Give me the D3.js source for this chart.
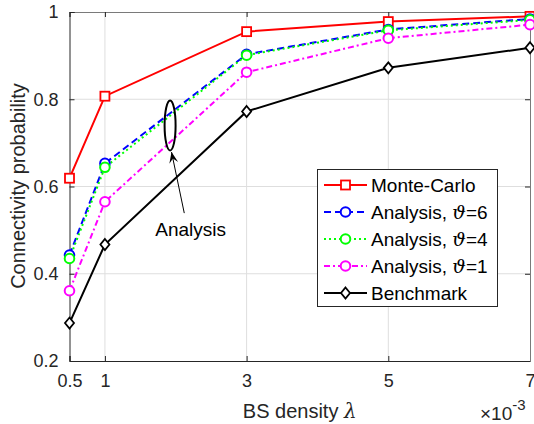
<!DOCTYPE html>
<html>
<head>
<meta charset="utf-8">
<script src="https://cdn.jsdelivr.net/npm/d3@7"></script>
<style>
  body { margin: 0; background: #fff; }
  svg { display: block; font-family: "Liberation Sans", Arial, sans-serif; }
</style>
</head>
<body>
<div id="chart"></div>
<script>
// ---- data ----
const density = [0.5, 1, 3, 5, 7];           // x 10^-3
const monteCarlo = [0.619, 0.807, 0.955, 0.978, 0.990];
const analysis6 = [0.443, 0.653, 0.903, 0.960, 0.984];
const analysis4 = [0.435, 0.644, 0.901, 0.958, 0.982];
const analysis1 = [0.361, 0.565, 0.862, 0.940, 0.971];
const benchmark = [0.287, 0.467, 0.772, 0.872, 0.918];
const xTicks = [0.5, 1, 3, 5, 7];
const yTicks = [0.2, 0.4, 0.6, 0.8, 1];

const series = [
    { name: "Monte-Carlo", theta: null, values: monteCarlo, color: "#ff0000", dash: null, marker: "square" },
    { name: "Analysis, ", theta: "6", values: analysis6, color: "#0000ff", dash: "7,4", marker: "circle" },
    { name: "Analysis, ", theta: "4", values: analysis4, color: "#00ff00", dash: "2,3", marker: "circle" },
    { name: "Analysis, ", theta: "1", values: analysis1, color: "#ff00ff", dash: "6,3,2,3", marker: "circle" },
    { name: "Benchmark", theta: null, values: benchmark, color: "#000000", dash: null, marker: "diamond" }
];

const W = 534, H = 424;
const margin = { left: 69.5, right: 4, top: 12, bottom: 63 };

const svg = d3.select("#chart").append("svg")
    .attr("width", W).attr("height", H);

const x = d3.scaleLinear().domain([0.5, 7]).range([margin.left, W - margin.right]);
const y = d3.scaleLinear().domain([0.2, 1]).range([H - margin.bottom, margin.top]);

const textColor = "#262626";

// grid
svg.append("g").selectAll("line").data(xTicks.slice(1, -1)).join("line")
    .attr("x1", d => x(d)).attr("x2", d => x(d))
    .attr("y1", y(0.2)).attr("y2", y(1))
    .attr("stroke", "#dedede").attr("stroke-width", 1);
svg.append("g").selectAll("line").data(yTicks.slice(1, -1)).join("line")
    .attr("x1", x(0.5)).attr("x2", x(7))
    .attr("y1", d => y(d)).attr("y2", d => y(d))
    .attr("stroke", "#dedede").attr("stroke-width", 1);

// axes (inward ticks)
const xAxis = svg.append("g")
    .attr("transform", `translate(0,${y(0.2)})`)
    .call(d3.axisBottom(x).tickValues(xTicks).tickSize(-5).tickPadding(13).tickFormat(d3.format("")));
const xAxisTop = svg.append("g")
    .attr("transform", `translate(0,${y(1)})`)
    .call(d3.axisTop(x).tickValues(xTicks).tickSize(-5).tickFormat(""));
const yAxis = svg.append("g")
    .attr("transform", `translate(${x(0.5)},0)`)
    .call(d3.axisLeft(y).tickValues(yTicks).tickSize(-5).tickPadding(11)
        .tickFormat(d => d === 1 ? "1" : d.toFixed(1)));
const yAxisRight = svg.append("g")
    .attr("transform", `translate(${x(7)},0)`)
    .call(d3.axisRight(y).tickValues(yTicks).tickSize(-5).tickFormat(""));

[xAxis, xAxisTop, yAxis, yAxisRight].forEach(g => {
    g.select(".domain").attr("stroke", "#262626").attr("stroke-width", 1);
    g.selectAll(".tick line").attr("stroke", "#262626");
    g.selectAll(".tick text").attr("fill", textColor)
        .style("font-size", "18px").style("font-family", "Liberation Sans, Arial, sans-serif");
});
xAxisTop.select(".domain").attr("stroke", "#7a7a7a");
yAxisRight.select(".domain").attr("stroke", "#7a7a7a");

// axis labels
svg.append("text")
    .attr("x", (x(0.5) + x(7)) / 2).attr("y", 418)
    .attr("text-anchor", "middle").attr("fill", textColor)
    .style("font-size", "20px")
    .text("BS density ")
    .append("tspan").style("font-family", "DejaVu Serif, serif").style("font-style", "italic").text("λ");

svg.append("text")
    .attr("transform", "translate(25,186) rotate(-90)")
    .attr("text-anchor", "middle").attr("fill", textColor)
    .style("font-size", "20px")
    .text("Connectivity probability");

const expo = svg.append("text")
    .attr("x", 480).attr("y", 420).attr("fill", textColor)
    .style("font-size", "19px");
expo.append("tspan").text("×10");
expo.append("tspan").attr("dy", -10).style("font-size", "15px").text("-3");

// lines and markers
const lineGen = d3.line().x((d, i) => x(density[i])).y(d => y(d));

function drawMarker(g, type, cx, cy, color) {
    if (type === "square") {
        g.append("rect").attr("x", cx - 4.5).attr("y", cy - 4.5).attr("width", 9).attr("height", 9)
            .attr("fill", "#fff").attr("stroke", color).attr("stroke-width", 1.8);
    } else if (type === "circle") {
        g.append("circle").attr("cx", cx).attr("cy", cy).attr("r", 4.8)
            .attr("fill", "#fff").attr("stroke", color).attr("stroke-width", 2);
    } else {
        g.append("path").attr("d", `M${cx},${cy - 5.5}L${cx + 4.5},${cy}L${cx},${cy + 5.5}L${cx - 4.5},${cy}Z`)
            .attr("fill", "#fff").attr("stroke", color).attr("stroke-width", 1.8);
    }
}

const plot = svg.append("g");
series.forEach(s => {
    plot.append("path")
        .attr("d", lineGen(s.values))
        .attr("fill", "none").attr("stroke", s.color).attr("stroke-width", 2)
        .attr("stroke-dasharray", s.dash);
});
series.forEach(s => {
    const mg = plot.append("g");
    s.values.forEach((v, i) => drawMarker(mg, s.marker, x(density[i]), y(v), s.color));
});

// annotation: ellipse + arrow + text
const annX = 1.92, annY = 0.740;
svg.append("ellipse")
    .attr("cx", x(annX)).attr("cy", y(annY)).attr("rx", 5.5).attr("ry", 25)
    .attr("fill", "none").attr("stroke", "#000").attr("stroke-width", 2);

const ax0 = x(2.12), ay0 = y(0.539);
const ax1 = x(1.94), ay1 = y(0.679);
svg.append("line")
    .attr("x1", ax0).attr("y1", ay0).attr("x2", ax1).attr("y2", ay1)
    .attr("stroke", "#000").attr("stroke-width", 1);
const ang = Math.atan2(ay1 - ay0, ax1 - ax0);
const hl = 11, hw = 4.5;
const bx = ax1 - hl * Math.cos(ang), by = ay1 - hl * Math.sin(ang);
const nx = -Math.sin(ang), ny = Math.cos(ang);
svg.append("path")
    .attr("d", `M${ax1},${ay1}L${bx + hw * nx},${by + hw * ny}L${ax1 - 0.6 * hl * Math.cos(ang)},${ay1 - 0.6 * hl * Math.sin(ang)}L${bx - hw * nx},${by - hw * ny}Z`)
    .attr("fill", "#000");

svg.append("text")
    .attr("x", x(2.21)).attr("y", y(0.487))
    .attr("text-anchor", "middle").attr("fill", "#000")
    .style("font-size", "19px")
    .text("Analysis");

// legend
const lg = svg.append("g");
lg.append("rect").attr("x", 317.5).attr("y", 169.5).attr("width", 180).attr("height", 137)
    .attr("fill", "#fff").attr("stroke", "#262626").attr("stroke-width", 1);
series.forEach((s, i) => {
    const ly = 185 + i * 27;
    lg.append("line").attr("x1", 324).attr("x2", 367).attr("y1", ly).attr("y2", ly)
        .attr("stroke", s.color).attr("stroke-width", 2).attr("stroke-dasharray", s.dash);
    drawMarker(lg, s.marker, 345.5, ly, s.color);
    const t = lg.append("text").attr("x", 371).attr("y", ly + 7).attr("fill", "#000")
        .style("font-size", "19px").text(s.name);
    if (s.theta) {
        t.append("tspan").style("font-family", "DejaVu Serif, serif").style("font-style", "italic").text("ϑ");
        t.append("tspan").text("=" + s.theta);
    }
});
</script>
</body>
</html>
